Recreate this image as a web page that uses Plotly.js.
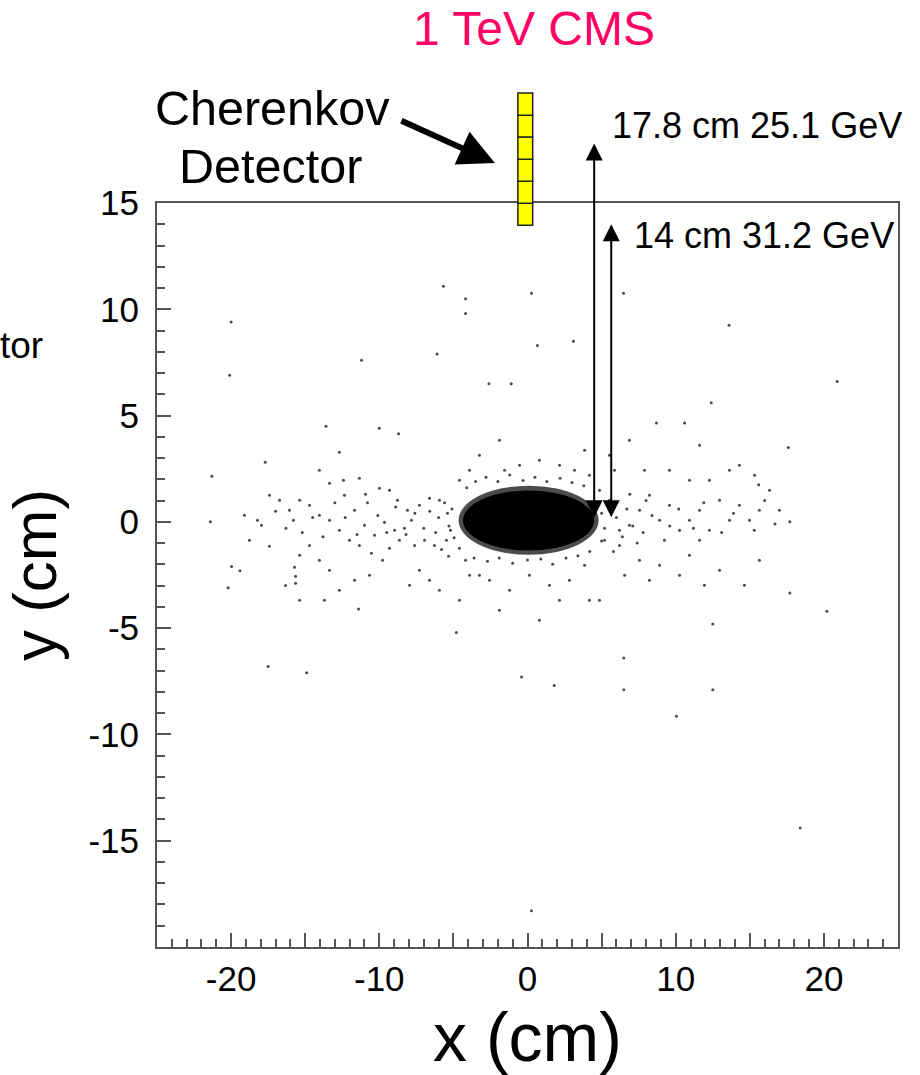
<!DOCTYPE html>
<html><head><meta charset="utf-8">
<script src="https://cdn.plot.ly/plotly-3.0.1.min.js"></script>
<style>html,body{margin:0;padding:0;background:#fff}</style>
</head><body>
<div id="chart" style="width:920px;height:1075px"></div>
<script>
// ---- axes ----
const xRange = [-25, 25];
const yRange = [-20, 15];
const xTickVals = [-25, -20, -15, -10, -5, 0, 5, 10, 15, 20, 25];
const xTickText = ['', '-20', '', '-10', '', '0', '', '10', '', '20', ''];
const yTickVals = [-15, -10, -5, 0, 5, 10, 15];
const yTickText = ['-15', '-10', '-5', '0', '5', '10', '15'];

// ---- dense shower core (solid black blob) ----
const coreX = [-4.35, 4.5];
const coreY = [-1.35, 1.48];
const fuzzX = [-4.65, 4.8];
const fuzzY = [-1.55, 1.7];

// ---- scattered hits (cm) ----
const haloX = [-5.67,-4.18,-4.18,0.27,6.48,-20.0,13.6,-6.1,-11.2,0.67,3.1,-1.1,-2.6,-20.1,20.9,12.4,-13.6,-10.0,-8.7,8.7,10.6,17.6,-21.3,-21.4,-17.7,-19.97,-19.4,-15.65,-20.2,-11.4,-4.8,-17.5,-14.9,6.5,1.8,-0.4,6.5,12.5,10.05,12.5,17.7,20.2,18.4,0.27,15.6,17.7,
 -12.69,-12.42,-11.34,-10.93,-9.99,-9.31,-8.77,-8.10,-7.83,-7.29,-6.61,-5.94,-5.40,-5.20,-5.47,-6.28,-6.95,-7.62,-8.64,-9.31,-9.78,-10.53,-11.34,-12.01,-12.69,-13.36,-14.04,-14.71,-15.38,-15.79,-16.06,-16.73,-17.41,-17.95,-18.22,-18.76,-19.10,-14.04,-13.36,-12.35,-11.67,-11.00,-10.32,-9.65,-8.97,-8.30,-10.66,-11.67,-13.36,-14.04,-14.71,-15.38,-15.72,-17.41,-16.33,-15.65,-15.38,-13.70,-12.69,-7.29,-7.96,-6.61,-5.94,-5.33,-4.59,-4.18,-3.91,-3.24,
 4.86,5.53,6.21,6.88,7.56,8.23,8.91,9.24,9.58,10.26,10.93,11.61,12.28,12.96,13.63,14.30,14.98,15.65,16.33,17.00,11.61,10.93,8.91,7.56,6.21,5.20,4.86,6.55,8.23,10.26,11.94,12.96,14.64,15.65,7.89,9.58,10.93,12.28,13.63,15.32,5.87,5.53,6.88,11.61,14.30,
 -0.54,0.81,-1.55,2.16,-3.24,-1.89,3.85,-3.91,-4.59,3.17,4.18,-2.56,-1.21,0.13,1.48,2.83,3.85,2.16,-1.89,0.81,4.18,-4.59,
 -3.5,-2.8,-2.0,-1.2,-0.3,0.5,1.3,2.2,3.0,3.8,-4.1,-3.6,-2.7,-1.9,-1.0,0.0,0.9,1.7,2.6,3.4,4.2,
 -5.1,-5.3,-4.95,-5.6,-6.0,-6.2,-5.8,-6.6,5.0,5.2,5.0,5.6,6.0,6.4,5.8,6.7,7.1,7.4,6.9,
 7.8,8.4,8.0,9.6,10.2,11.2,11.9,13.1,13.9,15.3,16.0,16.7,-7.0,-7.6,-8.2,-8.9,-9.5,-10.1,-10.8,-11.5,-12.3,-13.0,-13.8,-14.5,-15.2,-16.3,-17.0];
const haloY = [11.08,10.5,9.8,10.75,10.75,9.4,9.25,7.9,7.6,8.3,8.5,6.5,6.5,6.9,6.6,5.6,4.5,4.4,4.15,4.65,4.65,3.5,2.15,0.0,2.8,-2.1,-2.3,-2.56,-3.1,-4.1,-5.2,-6.8,-7.1,-6.4,-7.7,-7.3,-7.9,-7.9,-9.15,-4.8,-3.35,-4.2,-14.4,-18.3,1.75,0.0,
 3.27,1.96,2.05,1.30,1.58,1.49,1.02,0.55,0.08,0.78,1.11,1.02,0.41,-0.40,-0.87,-1.11,-0.87,-1.11,-0.87,-1.24,-1.81,-1.48,-1.11,-0.87,-0.40,0.08,0.31,0.78,1.02,0.08,0.55,1.02,1.25,-0.16,0.08,-0.87,0.31,2.43,1.82,1.25,0.55,-0.16,-0.63,-0.02,-0.40,-0.30,-2.51,-2.75,-2.28,-1.81,-1.11,-1.57,-2.14,-1.15,-2.99,-2.89,-3.69,-3.69,-3.22,-2.28,-2.98,-2.75,-3.22,-1.62,-1.24,-1.81,-2.51,-2.51,
 1.49,1.02,-0.40,-0.16,0.55,1.25,0.08,-0.87,0.78,-0.40,0.08,0.55,-0.40,1.02,0.08,0.78,0.08,0.55,1.49,0.55,-0.87,-1.57,-2.04,-1.81,-1.11,-0.87,-3.69,-2.51,-2.75,-2.51,-2.98,-2.28,-2.98,-1.81,2.43,2.43,1.96,1.96,2.43,2.19,2.43,3.13,3.84,3.60,2.66,
 2.66,2.90,2.43,2.66,3.13,3.84,3.37,2.43,1.96,2.43,2.19,-2.75,-3.22,-2.51,-2.98,-2.75,-2.04,-3.69,-4.16,-4.63,-3.69,-3.69,
 1.9,2.1,1.9,2.2,1.95,2.1,1.9,2.05,1.85,1.7,1.6,-1.7,-1.85,-1.7,-1.95,-1.8,-1.75,-2.0,-1.7,-1.6,-1.4,
 0.6,-0.2,-0.75,0.9,0.2,-0.5,-1.3,0.5,0.4,-0.3,-0.9,0.9,0.2,-0.7,-1.4,0.6,-0.2,-1.0,1.3,
 -0.5,0.3,1.0,-0.2,0.6,-0.3,0.9,-0.5,0.4,-0.4,1.0,-0.1,-0.3,0.4,-0.6,0.7,-0.5,0.3,0.9,-0.6,0.2,0.9,-0.7,0.2,-0.5,-0.3,0.5];

// ---- Cherenkov detector cells (cm) ----
const detectorX = [-0.65, 0.35];
const detectorEdges = [13.95, 14.99, 16.02, 17.06, 18.10, 19.13, 20.17];

// ---- distance markers ----
const markerX = [4.5, 5.65];
const markerTop = [17.8, 14];
const markerBottom = [0.15, 0.15];
const markerLabels = ['17.8 cm 25.1 GeV', '14 cm 31.2 GeV'];

const FONT = 'Liberation Sans, Arial, Helvetica, sans-serif';
const toPaperY = v => (v - yRange[0]) / (yRange[1] - yRange[0]);

const shapes = [
  {type: 'circle', xref: 'x', yref: 'y', x0: fuzzX[0], x1: fuzzX[1], y0: fuzzY[0], y1: fuzzY[1],
   fillcolor: 'rgba(0,0,0,0.7)', line: {width: 0}, layer: 'below'},
  {type: 'circle', xref: 'x', yref: 'y', x0: coreX[0], x1: coreX[1], y0: coreY[0], y1: coreY[1],
   fillcolor: '#000', line: {width: 0}, layer: 'below'}
];
for (let i = 0; i < detectorEdges.length - 1; i++) {
  shapes.push({type: 'rect', xref: 'x', yref: 'paper', x0: detectorX[0], x1: detectorX[1],
    y0: toPaperY(detectorEdges[i]), y1: toPaperY(detectorEdges[i + 1]),
    fillcolor: '#FFFF00', line: {color: '#222', width: 1.5}, layer: 'above'});
}

const annotations = [];
for (let i = 0; i < markerX.length; i++) {
  annotations.push({x: markerX[i], y: markerTop[i], xref: 'x', yref: 'y',
    ax: markerX[i], ay: markerBottom[i], axref: 'x', ayref: 'y',
    text: '', showarrow: true, arrowside: 'end+start', arrowhead: 2, startarrowhead: 2,
    arrowsize: 1.7, startarrowsize: 1.7, arrowwidth: 2, arrowcolor: '#000'});
}
annotations.push({xref: 'paper', yref: 'paper', x: 0.6113, y: 1.1042, xanchor: 'left', yanchor: 'middle',
  text: markerLabels[0], showarrow: false, font: {family: FONT, size: 36, color: '#000'}});
annotations.push({xref: 'paper', yref: 'paper', x: 0.641, y: 0.9563, xanchor: 'left', yanchor: 'middle',
  text: markerLabels[1], showarrow: false, font: {family: FONT, size: 36, color: '#000'}});
annotations.push({xref: 'paper', yref: 'paper', x: 0.1552, y: 1.1277, xanchor: 'center', yanchor: 'middle',
  text: 'Cherenkov', showarrow: false, font: {family: FONT, size: 48.5, color: '#000'}});
annotations.push({xref: 'paper', yref: 'paper', x: 0.1525, y: 1.0491, xanchor: 'center', yanchor: 'middle',
  text: 'Detector', showarrow: false, font: {family: FONT, size: 48.5, color: '#000'}});
annotations.push({xref: 'paper', yref: 'paper', x: -0.1511, y: 0.8086, xanchor: 'right', yanchor: 'middle',
  text: 'tor', showarrow: false, font: {family: FONT, size: 37, color: '#000'}});
// pointer arrow to the detector
annotations.push({xref: 'paper', yref: 'paper', x: 0.456, y: 1.0538, ax: -95, ay: -43,
  text: '', showarrow: true, arrowhead: 2, arrowsize: 1.2, arrowwidth: 6, arrowcolor: '#000'});

const traces = [{
  type: 'scatter', mode: 'markers', x: haloX, y: haloY,
  marker: {size: 3, color: 'rgba(30,30,30,0.8)'}, hoverinfo: 'skip', showlegend: false
}];

const axisCommon = {
  showgrid: false, zeroline: false, showline: true, linecolor: '#555', linewidth: 2, mirror: true,
  ticks: 'inside', ticklen: 14, tickwidth: 2, tickcolor: '#555',
  tickfont: {family: FONT, size: 35, color: '#000'},
  minor: {ticks: 'inside', dtick: 1, tick0: 0, ticklen: 8, tickwidth: 2, tickcolor: '#555', showgrid: false}
};

const layout = {
  width: 920, height: 1075,
  margin: {l: 157, r: 22, t: 203, b: 128},
  paper_bgcolor: '#fff', plot_bgcolor: '#fff',
  title: {text: '1 TeV CMS', xref: 'container', yref: 'container', x: 0.5805, y: 0.9735,
    xanchor: 'center', yanchor: 'middle', font: {family: FONT, size: 48, color: '#FF0066'}},
  xaxis: Object.assign({}, axisCommon, {range: xRange, tickmode: 'array', tickvals: xTickVals, ticktext: xTickText,
    title: {text: 'x (cm)', font: {family: FONT, size: 68, color: '#000'}, standoff: 18}}),
  yaxis: Object.assign({}, axisCommon, {range: yRange, tickmode: 'array', tickvals: yTickVals, ticktext: yTickText,
    ticklabelstandoff: 9,
    title: {text: 'y (cm)', font: {family: FONT, size: 62, color: '#000'}, standoff: 20}}),
  shapes: shapes,
  annotations: annotations,
  showlegend: false
};

Plotly.newPlot('chart', traces, layout, {displayModeBar: false, staticPlot: true});
</script>
</body></html>
